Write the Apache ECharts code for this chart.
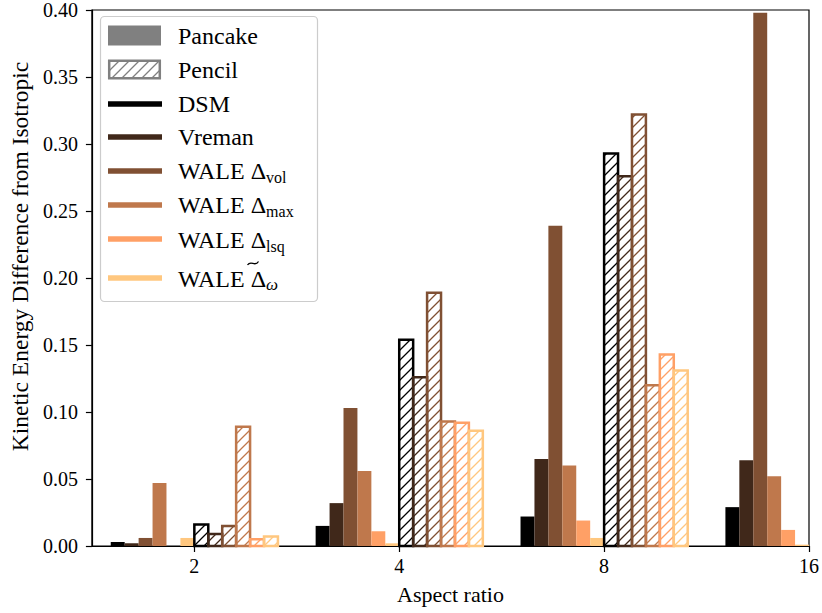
<!DOCTYPE html>
<html>
<head>
<meta charset="utf-8">
<script src="https://cdn.jsdelivr.net/npm/echarts@6/dist/echarts.min.js"></script>
<style>
html,body{margin:0;padding:0;background:#fff;}
#chart{width:822px;height:613px;}
</style>
</head>
<body>
<div id="chart"></div>
<script>
// ---------------- DATA ----------------
const aspectRatios = [2, 4, 8, 16];
const tickLabels = ['2', '4', '8', '16'];
const modelNames = ['DSM', 'Vreman', 'WALE Δvol', 'WALE Δmax', 'WALE Δlsq', 'WALE Δ̃ω'];

// Pancake (solid) values per model, one per aspect ratio
const pancakeDSM    = [0.003, 0.015, 0.022, 0.029];
const pancakeVreman = [0.002, 0.032, 0.065, 0.064];
const pancakeVol    = [0.006, 0.103, 0.239, 0.398];
const pancakeMax    = [0.047, 0.056, 0.060, 0.052];
const pancakeLsq    = [0.000, 0.011, 0.019, 0.012];
const pancakeOmega  = [0.006, 0.002, 0.006, 0.001];

// Pencil (hatched) values per model (no pencil case at 16)
const pencilDSM    = [0.016, 0.154, 0.293, null];
const pencilVreman = [0.009, 0.126, 0.276, null];
const pencilVol    = [0.015, 0.189, 0.322, null];
const pencilMax    = [0.089, 0.093, 0.120, null];
const pencilLsq    = [0.005, 0.092, 0.143, null];
const pencilOmega  = [0.007, 0.086, 0.131, null];

// ---------------- STYLE ----------------
const colors = ['#000000', '#40281a', '#805033', '#bf784c', '#ffa066', '#ffc77f'];
const FONT = '"Liberation Serif", "Times New Roman", serif';
const BAR_W = 0.068;           // bar width in log2 units
const GROUP_W = 6 * BAR_W;

const pancakeSets = [pancakeDSM, pancakeVreman, pancakeVol, pancakeMax, pancakeLsq, pancakeOmega];
const pencilSets = [pencilDSM, pencilVreman, pencilVol, pencilMax, pencilLsq, pencilOmega];

function hatchPattern(color) {
  const s = 10;
  const c = document.createElement('canvas');
  c.width = s; c.height = s;
  const g = c.getContext('2d');
  g.strokeStyle = color;
  g.lineWidth = 1.3;
  g.beginPath();
  g.moveTo(-2, s + 2); g.lineTo(s + 2, -2);
  g.moveTo(-2, 2); g.lineTo(2, -2);
  g.moveTo(s - 2, s + 2); g.lineTo(s + 2, s - 2);
  g.stroke();
  return { image: c.toDataURL(), repeat: 'repeat', imageWidth: s, imageHeight: s };
}

function makeRender(k, pencil) {
  const pat = pencil ? hatchPattern(colors[k]) : null;
  return function (params, api) {
    const v = api.value(1);
    if (v == null || isNaN(v)) return null;
    const x = api.value(0);
    const left = pencil ? x + k * BAR_W : x - GROUP_W + k * BAR_W;
    const p0 = api.coord([left, v]);
    const p1 = api.coord([left + BAR_W, 0]);
    const shape = { x: p0[0], y: p0[1], width: p1[0] - p0[0], height: p1[1] - p0[1] };
    const style = pencil
      ? { fill: pat, stroke: colors[k], lineWidth: 2.5 }
      : { fill: colors[k], stroke: null };
    return { type: 'rect', shape: shape, style: style };
  };
}

const series = [];
for (let k = 0; k < 6; k++) {
  series.push({
    type: 'custom', name: modelNames[k] + ' (Pancake)',
    renderItem: makeRender(k, false), clip: false,
    data: aspectRatios.map((a, i) => [Math.log2(a), pancakeSets[k][i]]).filter(d => d[1] != null)
  });
}
for (let k = 0; k < 6; k++) {
  series.push({
    type: 'custom', name: modelNames[k] + ' (Pencil)',
    renderItem: makeRender(k, true), clip: false,
    data: aspectRatios.map((a, i) => [Math.log2(a), pencilSets[k][i]]).filter(d => d[1] != null)
  });
}

// ---------------- LEGEND (graphic) ----------------
const legendRich = {
  m: { fontFamily: FONT, fontSize: 24, color: '#000', lineHeight: 28 },
  s: { fontFamily: FONT, fontSize: 16, color: '#000', lineHeight: 14, verticalAlign: 'bottom' },
  o: { fontFamily: FONT, fontSize: 17, fontStyle: 'italic', color: '#000', lineHeight: 14, verticalAlign: 'bottom' }
};
const legendTexts = ['{m|DSM}', '{m|Vreman}', '{m|WALE Δ}{s|vol}', '{m|WALE Δ}{s|max}', '{m|WALE Δ}{s|lsq}', '{m|WALE Δ}{o|ω}'];
const legendLineY = [104, 137, 171, 205, 239, 278];
const legendTextY = [104, 137, 171, 205, 240, 279];
const graphic = [
  { type: 'rect', shape: { x: 100.5, y: 16.5, width: 217, height: 285, r: 4 },
    style: { fill: 'rgba(255,255,255,0.85)', stroke: '#cccccc', lineWidth: 1.2 }, z: 100 },
  { type: 'rect', shape: { x: 108, y: 25.5, width: 53, height: 20 }, style: { fill: '#808080' }, z: 101 },
  { type: 'text', x: 178, y: 36, style: { text: 'Pancake', font: '24px ' + FONT, fill: '#000', verticalAlign: 'middle' }, z: 101 },
  { type: 'rect', shape: { x: 109.2, y: 60.7, width: 50.6, height: 17.6 },
    style: { fill: hatchPattern('#808080'), stroke: '#808080', lineWidth: 2.5 }, z: 101 },
  { type: 'text', x: 178, y: 70, style: { text: 'Pencil', font: '24px ' + FONT, fill: '#000', verticalAlign: 'middle' }, z: 101 },
  // tilde accent above the last Δ
  { type: 'bezierCurve',
    shape: { x1: 247.5, y1: 265, cpx1: 251, cpy1: 259.5, cpx2: 255, cpy2: 267.5, x2: 258.5, y2: 261.5 },
    style: { fill: 'none', stroke: '#000', lineWidth: 1.3 }, z: 102 }
];
for (let k = 0; k < 6; k++) {
  graphic.push({ type: 'line', shape: { x1: 108, y1: legendLineY[k], x2: 162, y2: legendLineY[k] },
    style: { stroke: colors[k], lineWidth: 5.5 }, z: 101 });
  graphic.push({ type: 'text', x: 178, y: legendTextY[k],
    style: { text: legendTexts[k], rich: legendRich, verticalAlign: 'middle' }, z: 101 });
}

// ---------------- CHART ----------------
const chart = echarts.init(document.getElementById('chart'), null, { renderer: 'svg' });
chart.setOption({
  animation: false,
  backgroundColor: '#ffffff',
  grid: { left: 87, right: 9, top: 6, bottom: 67, show: true, borderColor: '#000', borderWidth: 1.2 },
  xAxis: {
    type: 'value', min: 0.5, max: 4,
    name: 'Aspect ratio', nameLocation: 'middle', nameGap: 37,
    nameTextStyle: { fontFamily: FONT, fontSize: 22, color: '#000' },
    axisLine: { show: true, lineStyle: { color: '#000', width: 1.2 } },
    axisTick: { show: true, inside: false, length: 6, lineStyle: { color: '#000', width: 1.2 },
      customValues: aspectRatios.map(a => Math.log2(a)) },
    axisLabel: { customValues: aspectRatios.map(a => Math.log2(a)), margin: 10,
      fontFamily: FONT, fontSize: 20, color: '#000',
      formatter: v => tickLabels[aspectRatios.findIndex(a => Math.abs(Math.log2(a) - v) < 1e-9)] },
    splitLine: { show: false }
  },
  yAxis: {
    type: 'value', min: 0, max: 0.40, interval: 0.05,
    name: 'Kinetic Energy Difference from Isotropic', nameLocation: 'middle', nameGap: 57, nameRotate: 90,
    nameTextStyle: { fontFamily: FONT, fontSize: 23.5, color: '#000', padding: [0, 0, 0, 43] },
    axisLine: { show: true, lineStyle: { color: '#000', width: 1.2 } },
    axisTick: { show: true, inside: false, length: 6, lineStyle: { color: '#000', width: 1.2 } },
    axisLabel: { margin: 14, fontFamily: FONT, fontSize: 20, color: '#000', formatter: v => v.toFixed(2) },
    splitLine: { show: false }
  },
  graphic: graphic,
  series: series
});
</script>
</body>
</html>
